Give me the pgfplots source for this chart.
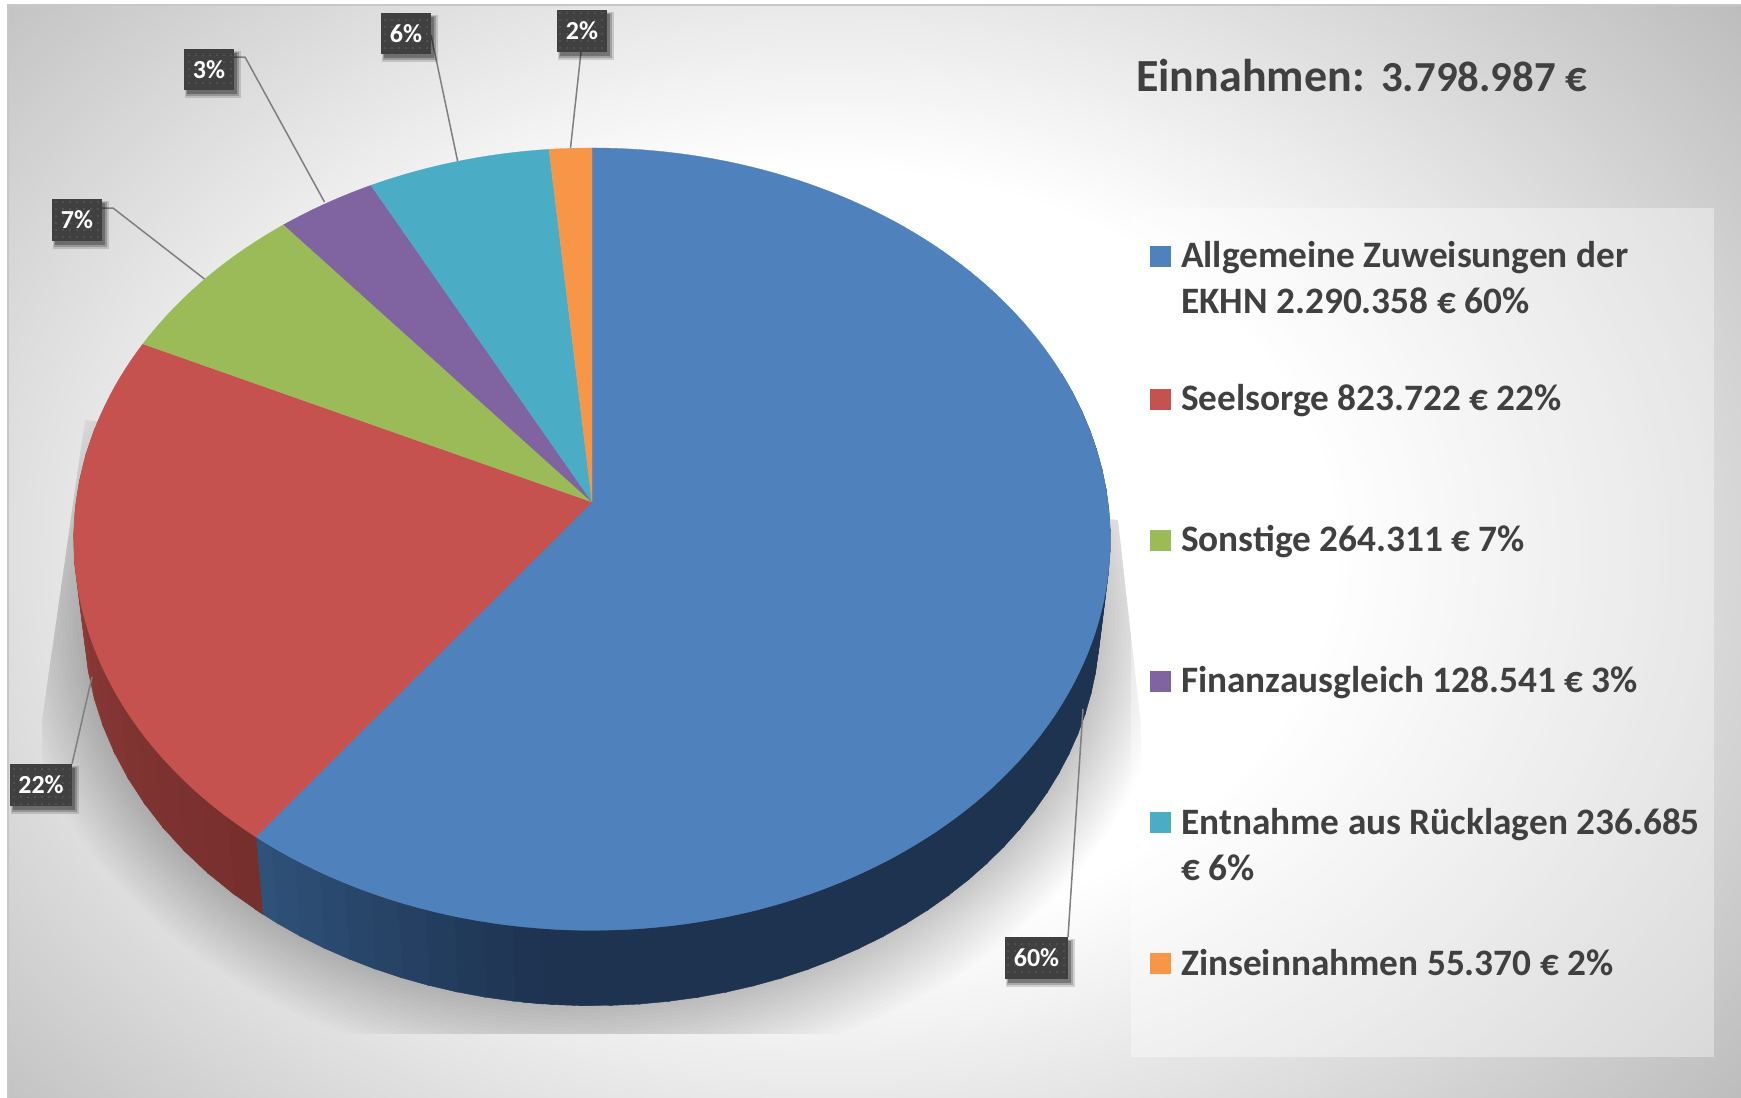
\documentclass[border=0pt]{standalone}
\usepackage{fontspec}
\setmainfont{Carlito}
\usepackage{pgfplots}
\pgfplotsset{compat=1.18}
\usetikzlibrary{patterns}
\definecolor{cBlue}{HTML}{4F81BD}
\definecolor{cRed}{HTML}{C5524F}
\definecolor{cGreen}{HTML}{9BBB59}
\definecolor{cPurple}{HTML}{8064A2}
\definecolor{cTeal}{HTML}{4BACC6}
\definecolor{cOrange}{HTML}{F79646}
\definecolor{wBlueA}{HTML}{30537C}
\definecolor{wBlueB}{HTML}{1D3350}
\definecolor{wRedA}{HTML}{762F2E}
\definecolor{wRedB}{HTML}{943E3A}
\definecolor{txt}{HTML}{404040}
\definecolor{lead}{HTML}{7F7F7F}
\pgfdeclarepatternformonly{labdots}{\pgfqpoint{-1pt}{-1pt}}{\pgfqpoint{1pt}{1pt}}{\pgfqpoint{7pt}{7pt}}{%
  \pgfpathcircle{\pgfqpoint{0pt}{0pt}}{0.9pt}\pgfusepath{fill}}
\newcommand\rim[1]{%
  \pgfmathsetmacro\mycos{cos(#1)}\pgfmathsetmacro\mysin{sin(#1)}%
  \pgfmathsetmacro\mydd{1+0.095*\mycos}%
  \pgfmathsetmacro\tx{592+516*\mysin/\mydd}\pgfmathsetmacro\ty{(502-340*\mycos)/\mydd}%
  \pgfmathsetmacro\lx{592+0.98*(\tx-592)}\pgfmathsetmacro\ly{0.98*\ty+94}}
\newcommand\wallseg[3]{% from angle, to angle, colour
  \rim{#1}\edef\xa{\tx}\edef\ya{\ty}\edef\xd{\lx}\edef\yd{\ly}%
  \rim{#2}\edef\xb{\tx}\edef\yb{\ty}\edef\xc{\lx}\edef\yc{\ly}%
  \edef\temp{\noexpand\addplot[fill={#3},draw={#3},line width=0.4pt] coordinates
    {(\xa,\ya)(\xb,\yb)(\xc,\yc)(\xd,\yd)(\xa,\ya)};}\temp}
\newcommand\slicecum{0}
\newcommand\slice[2]{% value (thousand euro), colour
  \pgfmathsetmacro\sA{\slicecum/3798.987*360}%
  \pgfmathsetmacro\newcum{\slicecum+#1}\global\let\slicecum\newcum
  \pgfmathsetmacro\sB{\slicecum/3798.987*360}%
  \pgfmathtruncatemacro\nn{ceil((\sB-\sA)/1.5)}%
  \gdef\pts{(592,502)}%
  \foreach \j in {0,...,\nn}{%
    \pgfmathsetmacro\myth{\sA+(\sB-\sA)*(\j/\nn)}\rim{\myth}%
    \xdef\pts{\pts(\tx,\ty)}}%
  \edef\temp{\noexpand\addplot[fill=#2,draw=#2,line width=0.3pt] coordinates {\pts(592,502)};}\temp}
\newcommand\lab[5]{%
  \fill[black,opacity=.14] (axis cs:#1+1,#2+2) rectangle (axis cs:#3+7,#4+8);
  \fill[black,opacity=.20] (axis cs:#1+2,#2+3) rectangle (axis cs:#3+5,#4+6);
  \fill[black,opacity=.28] (axis cs:#1+3,#2+4) rectangle (axis cs:#3+3,#4+4);
  \fill[txt] (axis cs:#1,#2) rectangle (axis cs:#3,#4);
  \fill[pattern=labdots,pattern color=white!18!txt] (axis cs:#1+2,#2+2) rectangle (axis cs:#3-2,#4-2);
  \node[white,font=\fontsize{26}{30}\selectfont\bfseries,inner sep=0pt]
    at (axis cs:{(#1+#3)/2},{(#2+#4)/2}) {#5};}
\newcommand\legtext[3]{\node[anchor=base west,inner sep=0pt,text=txt,font=\fontsize{37.3}{42}\selectfont\bfseries] at (axis cs:#1,#2) {#3};}
\newcommand\legkey[2]{\fill[#2] (axis cs:1150,#1-21) rectangle (axis cs:1171,#1);}
\begin{document}
\begin{tikzpicture}
\begin{axis}[
  scale only axis, width=1741pt, height=1098pt,
  xmin=0, xmax=1741, ymin=0, ymax=1098, y dir=reverse,
  hide axis, clip=true]
\fill[white] (axis cs:0,0) rectangle (axis cs:1741,1098);
% background: concentric bands from grey corners to a white middle
\begin{scope}
\clip (axis cs:8,5) rectangle (axis cs:1741,1098);
\fill[black!27.5] (axis cs:8,5) rectangle (axis cs:1741,1098);
\pgfplotsforeachungrouped \n in {0,...,70}{%
  \pgfmathsetmacro\gv{(70-\n)/2.55}%
  \pgfmathsetmacro\rr{0.6+(70-\n)/85.3}%
  \pgfmathsetmacro\rxx{850*\rr}\pgfmathsetmacro\ryy{640*\rr}%
  \edef\temp{\noexpand\fill[black!\gv] (axis cs:830,551)
     ellipse [x radius=\rxx pt, y radius=\ryy pt];}\temp}
\end{scope}
\draw[black!22,line width=1.5pt] (axis cs:8,1098) -- (axis cs:8,5) -- (axis cs:1741,5);
% soft floor shadow
\begin{scope}
\clip (axis cs:85,420) -- (axis cs:42,720) -- (axis cs:42,1034) -- (axis cs:1141,1034)
      -- (axis cs:1141,725) -- (axis cs:1118,520) -- cycle;
\pgfplotsinvokeforeach{0,...,19}{
  \fill[black,opacity=.012] (axis cs:592,622) ellipse [x radius=508pt+#1*3.8pt, y radius=383pt+#1*3.8pt];
}
\end{scope}
% side wall: blue part
\pgfplotsforeachungrouped \i in {0,...,38}{%
  \pgfmathsetmacro\ta{70+\i*3}\pgfmathsetmacro\tb{\ta+3.2}%
  \wallseg{\ta}{\tb}{wBlueB}}
\pgfplotsforeachungrouped \i in {0,...,10}{%
  \pgfmathsetmacro\ta{185+\i*3}\pgfmathsetmacro\tb{\ta+3.2}%
  \pgfmathsetmacro\mix{(\i+0.5)*100/11}%
  \wallseg{\ta}{\tb}{wBlueA!\mix!wBlueB}}
% side wall: red part
\pgfplotsforeachungrouped \i in {0,...,15}{%
  \pgfmathsetmacro\ta{217+\i*4}\pgfmathsetmacro\tb{\ta+4.2}%
  \pgfmathsetmacro\mix{(\i+0.5)*100/16}%
  \wallseg{\ta}{\tb}{wRedB!\mix!wRedA}}
% pie top, values in thousand euro
\slice{2290.358}{cBlue}
\slice{823.722}{cRed}
\slice{264.311}{cGreen}
\slice{128.541}{cPurple}
\slice{236.685}{cTeal}
\slice{55.370}{cOrange}
% leaders
\draw[lead,line width=1.5pt] (axis cs:581,52) -- (axis cs:570.5,148);
\draw[lead,line width=1.5pt] (axis cs:431,35) -- (axis cs:457.6,161);
\draw[lead,line width=1.5pt] (axis cs:234,57) -- (axis cs:245,57) -- (axis cs:324.5,202);
\draw[lead,line width=1.5pt] (axis cs:102,208) -- (axis cs:113,208) -- (axis cs:204.5,279);
\draw[lead,line width=1.5pt] (axis cs:72,764) -- (axis cs:92,677);
\draw[lead,line width=1.5pt] (axis cs:1068,937) -- (axis cs:1083,709);
% data labels
\lab{557}{10}{607}{52}{2\%}
\lab{381}{13}{431}{54}{6\%}
\lab{184}{49}{234}{90}{3\%}
\lab{52}{199}{102}{241}{7\%}
\lab{10}{764}{72}{806}{22\%}
\lab{1005}{937}{1068}{979}{60\%}
% legend panel
\fill[white,opacity=.38] (axis cs:1131,208) rectangle (axis cs:1714,1057);
\legkey{267}{cBlue}
\legkey{410}{cRed}
\legkey{551}{cGreen}
\legkey{692}{cPurple}
\legkey{833}{cTeal}
\legkey{974}{cOrange}
\legtext{1181}{267}{Allgemeine Zuweisungen der}
\legtext{1181}{313}{EKHN 2.290.358 € 60\%}
\legtext{1181}{410}{Seelsorge 823.722 € 22\%}
\legtext{1181}{551}{Sonstige 264.311 € 7\%}
\legtext{1181}{692}{Finanzausgleich 128.541 € 3\%}
\legtext{1181}{834}{Entnahme aus Rücklagen 236.685}
\legtext{1181}{880}{€ 6\%}
\legtext{1181}{975}{Zinseinnahmen 55.370 € 2\%}
% title
\node[anchor=base west,inner sep=0pt,text=txt,font=\fontsize{46}{50}\selectfont\bfseries] at (axis cs:1136,91) {Einnahmen:};
\node[anchor=base west,inner sep=0pt,text=txt,font=\fontsize{42.8}{50}\selectfont\bfseries] at (axis cs:1381,91) {3.798.987 €};
\end{axis}
\end{tikzpicture}
\end{document}
